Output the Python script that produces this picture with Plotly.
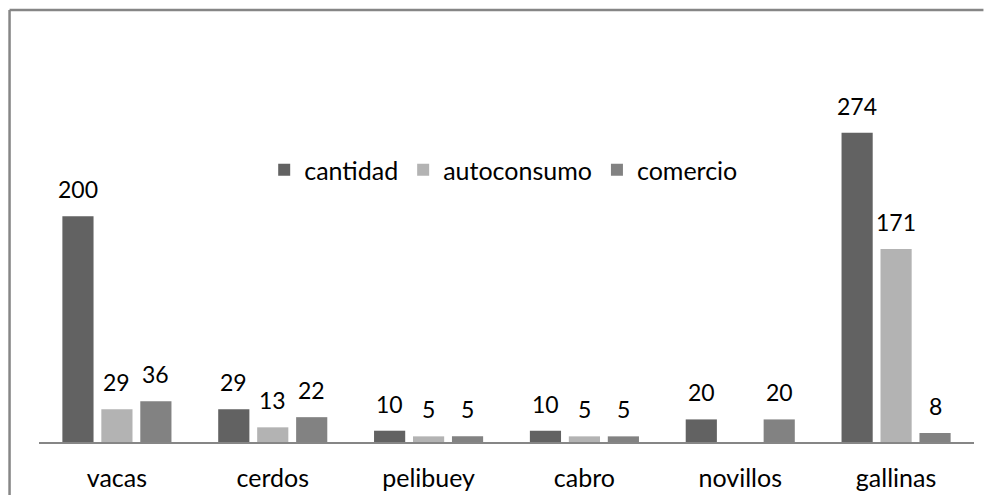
import plotly.graph_objects as go

categorias = ["vacas", "cerdos", "pelibuey", "cabro", "novillos", "gallinas"]
cantidad = [200, 29, 10, 10, 20, 274]
autoconsumo = [29, 13, 5, 5, None, 171]
comercio = [36, 22, 5, 5, 20, 8]

series = [
    ("cantidad", cantidad, "#626262"),
    ("autoconsumo", autoconsumo, "#b3b3b3"),
    ("comercio", comercio, "#828282"),
]

FONT = "Lato"
fig = go.Figure()
for name, vals, col in series:
    fig.add_trace(go.Bar(name=name, x=categorias, y=vals, marker_color=col,
                         marker_line_width=0))

# value labels above bars
slot = 39  # px spacing between bar centers within group
annotations = []
for i, (name, vals, col) in enumerate(series):
    for c, v in zip(categorias, vals):
        if v is None:
            continue
        annotations.append(dict(x=c, y=v, xref="x", yref="y", text=str(v),
                                showarrow=False, xanchor="center", yanchor="bottom",
                                xshift=(i - 1) * slot, yshift=11,
                                font=dict(family=FONT, size=23, color="#000000")))

border = dict(color="#868686", width=2.5)
# page has an 8px body margin; figure sized to fit inside the 992x503 window
fig.update_layout(
    width=976, height=487,
    margin=dict(l=30.5, r=9.5, t=22, b=52.5, autoexpand=False),
    paper_bgcolor="white", plot_bgcolor="white",
    barmode="group", bargap=0.25, bargroupgap=0.2,
    font=dict(family=FONT, size=24, color="#000000"),
    showlegend=True,
    legend=dict(orientation="h", x=0.497, xanchor="center", y=0.66, yanchor="middle",
                font=dict(family=FONT, size=25), bgcolor="rgba(0,0,0,0)",
                itemwidth=30, traceorder="normal"),
    annotations=annotations,
    shapes=[
        dict(type="line", xref="paper", yref="paper",
             x0=-0.0315, x1=1.0101, y0=1.0485, y1=1.0485, line=border, layer="below"),
        dict(type="line", xref="paper", yref="paper",
             x0=-0.0315, x1=-0.0315, y0=-0.2, y1=1.0485, line=border, layer="below"),
    ],
)
fig.update_xaxes(showline=True, linecolor="#868686", linewidth=2, ticks="",
                 showgrid=False, tickfont=dict(family=FONT, size=25),
                 ticklabelstandoff=13, automargin=False)
fig.update_yaxes(range=[0, 365], showticklabels=False, showgrid=False,
                 zeroline=False, showline=False, ticks="", automargin=False)

fig.write_html("out.html")
